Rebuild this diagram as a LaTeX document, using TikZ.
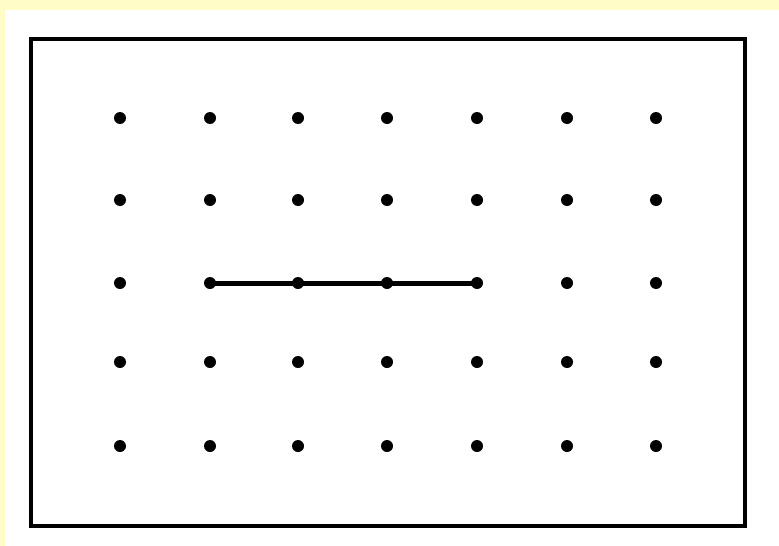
\documentclass[tikz,border=0pt]{standalone}
\definecolor{bgyellow}{RGB}{255,252,200}
\tikzset{
  dot/.style={circle,fill=black,inner sep=0pt,minimum size=12pt},
  frame/.style={draw=black,line width=4pt},
  seg/.style={draw=black,line width=5pt}
}
\begin{document}
\begin{tikzpicture}[x=1pt,y=-1pt]
\useasboundingbox (0,0) rectangle (779,546);
\fill[bgyellow] (0,0) rectangle (779,546);
\fill[white] (5,10) rectangle (779,546);
\draw[frame] (31,39) rectangle (745,526);
\foreach \r/\y in {1/118,2/200,3/283,4/362,5/446}{
  \foreach \c/\x in {1/120,2/210,3/298,4/387,5/477,6/567,7/656}{
    \node[dot] (d\r\c) at (\x,\y) {};
  }
}
\draw[seg] (d32.center) -- (d35.center);
\end{tikzpicture}
\end{document}
